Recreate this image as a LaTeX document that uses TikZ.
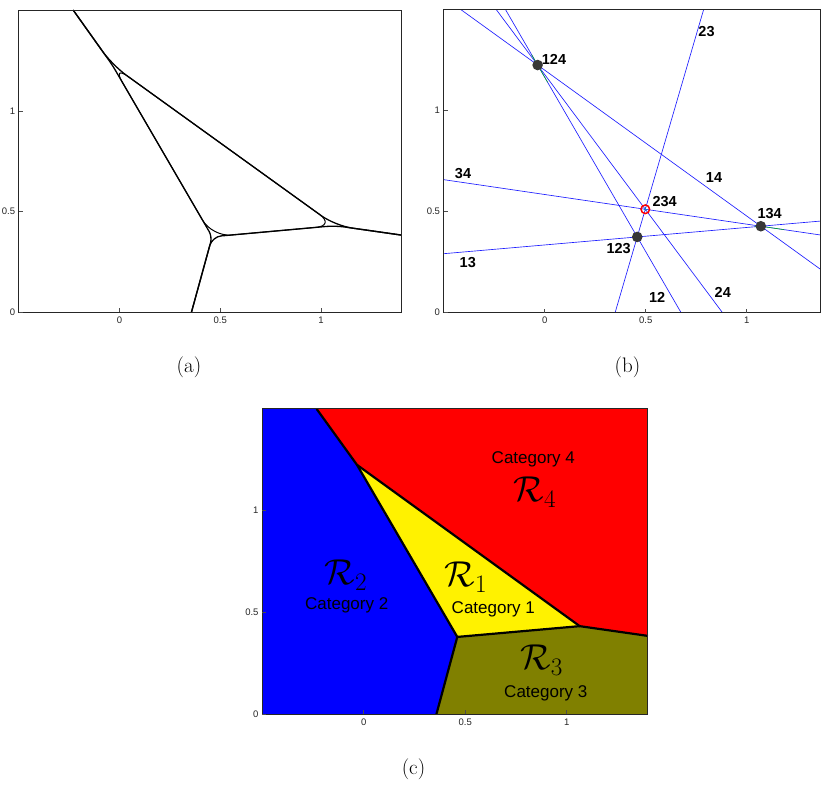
\RequirePackage{fix-cm}
\documentclass[tikz,border=0pt]{standalone}
\usepackage{fontspec}
\newfontfamily\arialf{Liberation Sans}
\usetikzlibrary{calc}
\definecolor{olivec}{RGB}{128,128,0}
\definecolor{dotc}{RGB}{55,55,55}
\begin{document}
\begin{tikzpicture}[x=1pt,y=1pt,
  axbox/.style={line width=0.9pt, draw=black!85},
  tickmark/.style={line width=0.5pt, draw=black!70},
  ticklab/.style={font=\arialf\fontsize{9.5}{11}\selectfont, text=black!85, inner sep=0pt},
  capt/.style={font=\fontsize{21}{24}\selectfont, inner sep=0pt},
  bline/.style={draw={rgb,255:red,30;green,30;blue,255}, line width=0.65pt},
  blab/.style={font=\arialf\bfseries\fontsize{14.5}{17}\selectfont, inner sep=0pt},
  curve/.style={line width=1.3pt, draw=black},
  bound/.style={line width=2.2pt, draw=black, line join=round},
  catlab/.style={font=\arialf\fontsize{17}{20}\selectfont, inner sep=0pt, anchor=base},
  rlab/.style={font=\fontsize{36}{40}\selectfont, inner sep=0pt, anchor=base}
]
\useasboundingbox (0,0) rectangle (821,784);
\fill[white] (0,0) rectangle (821,784);

% ---------------- panel (a) ----------------
\begin{scope}[shift={(119.5,471.7)}, x=201.5pt, y=201.5pt]
  \coordinate (aT) at (-0.230,1.5);
  \coordinate (a124) at (-0.035,1.226);
  \coordinate (a123) at (0.46,0.375);
  \coordinate (a134) at (1.07,0.43);
  \coordinate (aR) at (1.4,0.383);
  \coordinate (aB) at (0.357,0);
  \draw[curve, rounded corners=6pt] (aT) -- (a124) -- (a123) -- (aB);
  \draw[curve, rounded corners=17pt] (aT) -- (a124) -- (a134) -- (aR);
  \draw[curve, rounded corners=9pt] (aB) -- (a123) -- (a134) -- (aR);
  \draw[curve, line width=1pt, rounded corners=19pt] (a124) -- (a134) -- (a123) -- cycle;
  \draw[axbox] (-0.5,0) rectangle (1.4,1.5);
  \foreach \t/\n in {0/ax0,0.5/ax5,1/ax1}{
    \draw[tickmark] (\t,0) -- ++(0,4pt);
    \draw[tickmark] (-0.5,\t) -- ++(4pt,0);
    \node[ticklab, anchor=north] (\n x) at ($(\t,0)+(0,-4pt)$) {\t};
    \node[ticklab, anchor=east] (\n y) at ($(-0.5,\t)+(-3.5pt,0)$) {\t};
  }
\end{scope}
\node[capt] (capa) at (189,416.5) {(a)};

% ---------------- panel (b) ----------------
\begin{scope}[shift={(544.7,471.3)}, x=202pt, y=202pt]
  \coordinate (b124) at (-0.035,1.226);
  \coordinate (b123) at (0.458,0.375);
  \coordinate (b134) at (1.07,0.428);
  \coordinate (b234) at (0.498,0.512);
  \begin{scope}
    \clip (-0.5,0) rectangle (1.366,1.5);
    \draw[bline] ($(b124)!-4!(b123)$) -- ($(b124)!4!(b123)$); % 12
    \draw[bline] ($(b123)!-4!(b134)$) -- ($(b123)!4!(b134)$); % 13
    \draw[bline] ($(b124)!-4!(b134)$) -- ($(b124)!4!(b134)$); % 14
    \draw[bline] ($(b123)!-9!(b234)$) -- ($(b123)!30!(b234)$); % 23
    \draw[bline] ($(b124)!-4!(b234)$) -- ($(b124)!4!(b234)$); % 24
    \draw[bline] ($(b134)!-4!(b234)$) -- ($(b134)!4!(b234)$); % 34
    \draw[green!75!black, line width=0.5pt] ($(b124)!-0.06!(b123)$) -- ($(b124)!0.10!(b123)$);
    \draw[green!75!black, line width=0.5pt] ($(b134)!0.05!(b123)$) -- (b134) -- ($(b134)!-0.2!(b234)$);
  \end{scope}
  \fill[dotc] (b124) circle (5.3pt);
  \fill[dotc] (b123) circle (5.3pt);
  \fill[dotc] (b134) circle (5.3pt);
  \draw[red, line width=1.5pt] (b234) circle (4.3pt);
  \draw[cyan!60!blue, line width=0.4pt] ($(b234)+(-1.8pt,0)$) -- ($(b234)+(1.8pt,0)$)
        ($(b234)+(0,-1.8pt)$) -- ($(b234)+(0,1.8pt)$);
  \draw[axbox] (-0.5,0) rectangle (1.366,1.5);
  \foreach \t/\n in {0/bx0,0.5/bx5,1/bx1}{
    \draw[tickmark] (\t,0) -- ++(0,4pt);
    \draw[tickmark] (-0.5,\t) -- ++(4pt,0);
    \node[ticklab, anchor=north] (\n x) at ($(\t,0)+(0,-4pt)$) {\t};
    \node[ticklab, anchor=east] (\n y) at ($(-0.5,\t)+(-3.5pt,0)$) {\t};
  }
\end{scope}
\node[blab] (l124) at (554,725) {124};
\node[blab] (l23) at (706.5,752.5) {23};
\node[blab] (l14) at (714,606.5) {14};
\node[blab] (l34) at (463,610.3) {34};
\node[blab] (l234) at (664.7,582.7) {234};
\node[blab] (l134) at (769.7,570) {134};
\node[blab] (l123) at (618.7,535.2) {123};
\node[blab] (l13) at (467.8,521.2) {13};
\node[blab] (l12) at (657.2,486.2) {12};
\node[blab] (l24) at (722.8,491.8) {24};
\node[capt] (capb) at (627.5,416.5) {(b)};

% ---------------- panel (c) ----------------
\begin{scope}[shift={(363.7,69.7)}, x=203pt, y=203.6pt]
  \coordinate (cT) at (-0.232,1.5);
  \coordinate (c124) at (-0.033,1.225);
  \coordinate (c123) at (0.461,0.38);
  \coordinate (c134) at (1.064,0.433);
  \coordinate (cR) at (1.4,0.385);
  \coordinate (cB) at (0.358,0);
  \coordinate (cLL) at (-0.5,0);
  \coordinate (cLR) at (1.4,0);
  \coordinate (cUL) at (-0.5,1.5);
  \coordinate (cUR) at (1.4,1.5);
  \fill[blue] (cLL) -- (cB) -- (c123) -- (c124) -- (cT) -- (cUL) -- cycle;
  \fill[red] (cT) -- (cUR) -- (cR) -- (c134) -- (c124) -- cycle;
  \fill[yellow] (c124) -- (c134) -- (c123) -- cycle;
  \fill[olivec] (cB) -- (cLR) -- (cR) -- (c134) -- (c123) -- cycle;
  \draw[bound] (cT) -- (c124) -- (c123) -- (cB);
  \draw[bound] (c124) -- (c134) -- (cR);
  \draw[bound] (c123) -- (c134);
  \draw[axbox] (cLL) rectangle (cUR);
  \foreach \t/\n in {0/cx0,0.5/cx5,1/cx1}{
    \draw[tickmark] (\t,0) -- ++(0,4pt);
    \draw[tickmark] (-0.5,\t) -- ++(4pt,0);
    \node[ticklab, anchor=north] (\n x) at ($(\t,0)+(0,-4pt)$) {\t};
    \node[ticklab, anchor=east] (\n y) at ($(-0.5,\t)+(-3.5pt,0)$) {\t};
  }
\end{scope}
\node[catlab] (cat4) at (533.3,320.1) {Category 4};
\node[rlab] (r4) at (535,282) {$\mathcal{R}_4$};
\node[rlab] (r2) at (345.8,199) {$\mathcal{R}_2$};
\node[catlab] (cat2) at (346.7,174.5) {Category 2};
\node[rlab] (r1) at (465.8,197.3) {$\mathcal{R}_1$};
\node[catlab] (cat1) at (493.3,170.1) {Category 1};
\node[rlab] (r3) at (541.7,114) {$\mathcal{R}_3$};
\node[catlab] (cat3) at (545.8,86.8) {Category 3};
\node[capt] (capc) at (413.5,15) {(c)};
\end{tikzpicture}
\end{document}
